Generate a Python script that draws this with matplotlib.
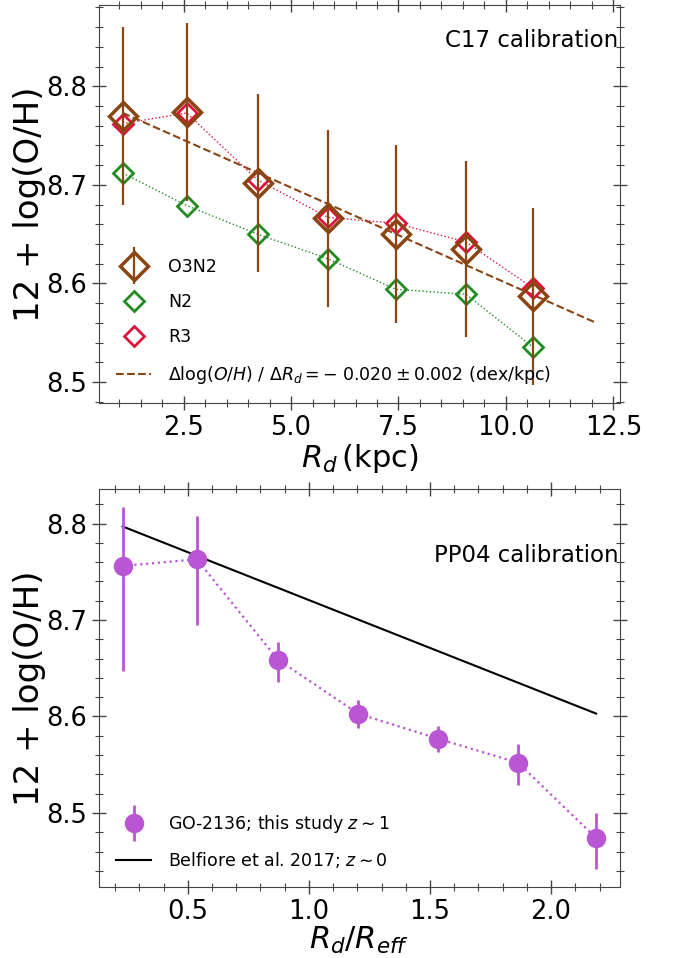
import numpy as np
import matplotlib
matplotlib.use("Agg")
import matplotlib.pyplot as plt
from matplotlib.ticker import MultipleLocator
from matplotlib.legend_handler import HandlerErrorbar
from matplotlib.container import ErrorbarContainer

# ── top panel: C17 calibration, radius in kpc ─────────────────────────────────
r_kpc = [1.08, 2.57, 4.22, 5.86, 7.44, 9.07, 10.64]
o3n2 = [8.770, 8.774, 8.702, 8.666, 8.650, 8.635, 8.587]
o3n2_err = [0.090, 0.090, 0.090, 0.090, 0.090, 0.089, 0.090]
n2 = [8.712, 8.679, 8.650, 8.625, 8.594, 8.589, 8.535]
r3 = [8.762, 8.773, 8.705, 8.667, 8.661, 8.642, 8.595]
fit_x = [1.08, 12.1]
fit_y = [8.773, 8.560]

# ── bottom panel: PP04 calibration, radius in R_eff ───────────────────────────
r_eff = [0.231, 0.537, 0.872, 1.203, 1.533, 1.864, 2.186]
pp04 = [8.756, 8.763, 8.659, 8.603, 8.577, 8.552, 8.474]
pp04_err_lo = [0.109, 0.068, 0.023, 0.015, 0.014, 0.023, 0.032]
pp04_err_hi = [0.061, 0.045, 0.018, 0.014, 0.013, 0.019, 0.026]
belf_x = [0.231, 2.186]
belf_y = [8.797, 8.603]

BROWN = "#8B4513"
GREEN = "#228B22"
RED = "#DC143C"
ORCHID = "#BA55D3"

FIT_LABEL = r"$\Delta\log(O/H)\ /\ \Delta R_d = -\;0.020 \pm 0.002$ (dex/kpc)"

plt.rcParams["font.family"] = "DejaVu Sans"
plt.rcParams["mathtext.fontset"] = "dejavusans"

fig = plt.figure(figsize=(6.73, 9.58), dpi=100)
ax1 = fig.add_axes([0.147, 0.5793, 0.774, 0.4154])
ax2 = fig.add_axes([0.147, 0.0741, 0.774, 0.4154])

err_handler = {ErrorbarContainer: HandlerErrorbar(yerr_size=1.05)}


def style_axis(ax, xmaj, xmin, ymaj, ymin):
    ax.xaxis.set_major_locator(MultipleLocator(xmaj))
    ax.xaxis.set_minor_locator(MultipleLocator(xmin))
    ax.yaxis.set_major_locator(MultipleLocator(ymaj))
    ax.yaxis.set_minor_locator(MultipleLocator(ymin))
    ax.tick_params(which="both", direction="inout", top=True, right=True,
                   color="#444444")
    ax.tick_params(which="major", length=10, width=1.0, labelsize=18.5)
    ax.tick_params(which="minor", length=6, width=0.8)
    for sp in ax.spines.values():
        sp.set_color("#444444")


# top panel
h_fit, = ax1.plot(fit_x, fit_y, "--", color=BROWN, lw=1.5)
ax1.plot(r_kpc, n2, ls=":", color=GREEN, lw=1.0)
ax1.plot(r_kpc, r3, ls=":", color=RED, lw=1.0)
h_n2, = ax1.plot(r_kpc, n2, ls="none", marker="D", ms=10,
                 mfc="none", mec=GREEN, mew=2.0)
h_r3, = ax1.plot(r_kpc, r3, ls="none", marker="D", ms=10,
                 mfc="none", mec=RED, mew=2.0)
h_o3 = ax1.errorbar(r_kpc, o3n2, yerr=o3n2_err, fmt="D", ms=14, mfc="none",
                    mec=BROWN, mew=2.5, ecolor=BROWN, elinewidth=1.6)
ax1.legend([h_o3, h_n2, h_r3, h_fit], ["O3N2", "N2", "R3", FIT_LABEL],
           loc="lower left", frameon=False, fontsize=12.5, labelspacing=1.0,
           handletextpad=1.0, borderaxespad=0.6, handler_map=err_handler)
ax1.text(0.997, 0.91, "C17 calibration", transform=ax1.transAxes,
         ha="right", va="center", fontsize=16.5)
ax1.set_xlabel(r"$R_d\,$(kpc)", fontsize=22, labelpad=1)
ax1.set_ylabel("12 + log(O/H)", fontsize=24.5, labelpad=0)
style_axis(ax1, 2.5, 0.5, 0.1, 0.02)

# bottom panel
h_belf, = ax2.plot(belf_x, belf_y, "-", color="black", lw=1.5)
ax2.plot(r_eff, pp04, ls=":", lw=1.6, color=ORCHID)
h_go = ax2.errorbar(r_eff, pp04, yerr=[pp04_err_lo, pp04_err_hi], fmt="o",
                    color=ORCHID, ms=13, elinewidth=2.0)
ax2.legend([h_go, h_belf],
           [r"GO-2136; this study $z\sim1$", r"Belfiore et al. 2017; $z\sim0$"],
           loc="lower left", frameon=False, fontsize=12.5, labelspacing=0.85,
           handletextpad=1.0, borderaxespad=0.6, handler_map=err_handler)
ax2.text(0.997, 0.834, "PP04 calibration", transform=ax2.transAxes,
         ha="right", va="center", fontsize=16.5)
ax2.set_xlabel(r"$R_d/R_{eff}$", fontsize=22, labelpad=0)
ax2.set_ylabel("12 + log(O/H)", fontsize=24.5, labelpad=0)
style_axis(ax2, 0.5, 0.1, 0.1, 0.02)

fig.savefig("out.png", dpi=100)
